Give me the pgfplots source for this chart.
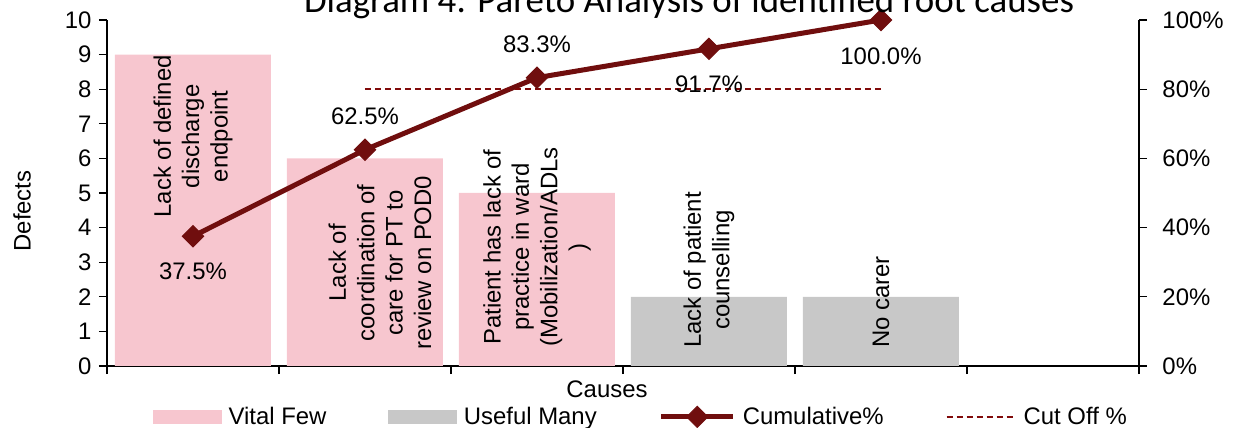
\documentclass[border=0pt]{standalone}
\usepackage{pgfplots}
\pgfplotsset{compat=1.18}
\usepackage{fontspec}
\setmainfont{Liberation Sans}
\newfontfamily\titlefont{Carlito}
\definecolor{vital}{RGB}{247,198,207}
\definecolor{useful}{RGB}{200,200,200}
\definecolor{cumc}{RGB}{112,14,14}
\definecolor{cutc}{RGB}{128,10,10}
\newcommand{\ff}{\fontsize{24}{28.5}\selectfont}
\pgfplotsset{
  base/.style={
    scale only axis, width=1032bp, height=346bp,
    xmin=-0.5, xmax=5.5,
    /pgf/number format/assume math mode=true,
    tick align=outside, major tick length=8bp,
    axis line style={line width=1.3bp, black},
    tick style={line width=1.3bp, black},
    tick label style={font=\ff},
    label style={font=\ff},
  },
  cumlegend/.style={legend image code/.code={\draw[mark repeat=2,mark phase=2,##1] plot coordinates {(0bp,0bp) (36bp,0bp) (72bp,0bp)};}},
  cutlegend/.style={legend image code/.code={\draw[##1] (0bp,0bp) -- (69bp,0bp);}},
  vitallegend/.style={legend image code/.code={\fill[vital] (0bp,-6.5bp) rectangle (68bp,6.5bp);}},
  usefullegend/.style={legend image code/.code={\fill[useful] (0bp,-6.5bp) rectangle (68bp,6.5bp);}},
}
\begin{document}
\begin{tikzpicture}[font=\ff]
\begin{axis}[base, name=ax,
  ymin=0, ymax=10,
  axis y line*=left, axis x line*=bottom,
  xtick={-0.5,0.5,...,5.5}, xticklabels={},
  ytick={0,1,...,10},
  yticklabel style={xshift=-4bp},
  ybar, bar width=0.907, bar shift=0pt,
  ylabel={Defects},
  ylabel style={at={(axis description cs:-0.0824,0.448)}, anchor=center, rotate=0},
  xlabel={Causes},
  xlabel style={at={(axis description cs:0.4845,-0.066)}, anchor=center},
]
\addplot[fill=vital, draw=none] coordinates {(0,9) (1,6) (2,5)};
\addplot[fill=useful, draw=none] coordinates {(3,2) (4,2)};
\node[rotate=90, anchor=east, align=center, inner sep=0pt] at (axis cs:0,8.99) {Lack of defined\\discharge\\endpoint};
\node[rotate=90, anchor=west, align=center, inner sep=0pt] at (axis cs:1.087,0.46) {Lack of\\coordination of\\care for PT to\\review on POD0};
\node[rotate=90, anchor=west, align=center, inner sep=0pt] at (axis cs:2,0.55) {Patient has lack of\\practice in ward\\(Mobilization/ADLs\\)};
\node[rotate=90, anchor=west, align=center, inner sep=0pt] at (axis cs:3,0.52) {Lack of patient\\counselling};
\node[rotate=90, anchor=west, align=center, inner sep=0pt] at (axis cs:4,0.52) {No carer};
\end{axis}
\begin{axis}[base,
  ymin=0, ymax=100,
  axis y line*=right, axis x line=none,
  ytick={0,20,...,100},
  yticklabel={\pgfmathprintnumber{\tick}\%},
  yticklabel style={xshift=12bp},
  clip=false,
  legend columns=4,
  legend style={draw=none, fill=none, font=\ff,
    at={(axis description cs:0.0446,-0.147)}, anchor=west, xshift=-3bp,
    /tikz/every odd column/.append style={column sep=5bp},
    /tikz/every even column/.append style={column sep=60bp}},
]
\addlegendimage{vitallegend}
\addlegendimage{usefullegend}
\addplot[cumc, line width=5bp, mark=square*, mark size=7.5bp,
  mark options={rotate=45, solid, line width=1bp}, cumlegend]
  coordinates {(0,37.5) (1,62.5) (2,83.33) (3,91.67) (4,100)};
\addplot[cutc, line width=2bp, dash pattern=on 6bp off 4bp, cutlegend]
  coordinates {(1,80) (4,80)};
\legend{Vital Few, Useful Many, Cumulative\%, Cut Off \%}
\node at (axis cs:0,37.5) [yshift=-35bp] {37.5\%};
\node at (axis cs:1,62.5) [yshift=33bp] {62.5\%};
\node at (axis cs:2,83.33) [yshift=33bp] {83.3\%};
\node at (axis cs:3,91.67) [yshift=-35bp] {91.7\%};
\node at (axis cs:4,100) [yshift=-36bp] {100.0\%};
\end{axis}
\node[anchor=base, inner sep=0pt, font=\titlefont\fontsize{37}{44}\selectfont] at ([shift={(582bp,353bp)}]ax.south west) {Diagram 4: Pareto Analysis of identified root causes};
\pgfresetboundingbox
\path[use as bounding box] ([shift={(-107bp,-62bp)}]ax.south west) rectangle ++(1234bp,428bp);
\end{tikzpicture}
\end{document}
